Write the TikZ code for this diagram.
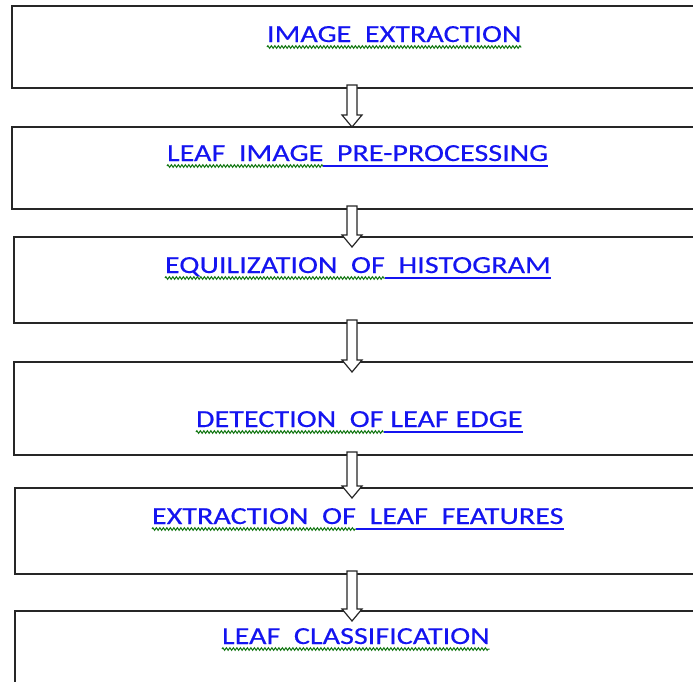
\documentclass[tikz,border=0pt]{standalone}
\usepackage{fontspec}
\newfontfamily\stepfont[FakeStretch=1.23, FakeBold=0.3]{Carlito}
\usetikzlibrary{calc}
\usetikzlibrary{positioning}
\usetikzlibrary{decorations.pathmorphing}

\definecolor{linkblue}{RGB}{20,20,240}
\definecolor{spellgreen}{RGB}{20,120,20}

\tikzset{
    stepbox/.style={draw=black!85, line width=1.6pt, fill=white,
        outer sep=0pt, inner sep=0pt, anchor=north west},
    steplabel/.style={inner sep=0pt, outer sep=0pt, anchor=base west,
        text=linkblue, font=\stepfont\fontsize{24.5}{29}\selectfont},
    linkline/.style={linkblue, line width=1.5pt},
    squiggle/.style={spellgreen, line width=1pt, decorate,
        decoration={zigzag, segment length=3.5pt, amplitude=1.3pt}},
    hollowarrow/.style={draw=black!85, line width=1.2pt, fill=white, line join=miter}
}

% hollow block arrow down the spine, #1 = how far the tip runs into the lower box
\newcommand{\flowarrow}[3][0]{%
    \draw[hollowarrow] let \p1=(#2.south), \p2=(#3.north), \p3=(spine) in
        (\x3-5pt,\y1+3pt) -- (\x3-5pt,\y2+12pt-#1pt) -- (\x3-10pt,\y2+12pt-#1pt)
        -- (\x3,\y2-#1pt) -- (\x3+10pt,\y2+12pt-#1pt) -- (\x3+5pt,\y2+12pt-#1pt)
        -- (\x3+5pt,\y1+3pt) -- cycle;
}

\begin{document}
\begin{tikzpicture}[
    x=1pt, y=-1pt]

    \clip (0,0) rectangle (693,681);
    \fill[white] (0,0) rectangle (693,681);
    \coordinate (spine) at (352,0);

    % boxes
    \node[stepbox, minimum width=698pt, minimum height=82pt] (b1) at (12,6) {};
    \node[stepbox, minimum width=698pt, minimum height=82pt] (b2) at (12,127) {};
    \node[stepbox, minimum width=696pt, minimum height=86pt] (b3) at (14,237) {};
    \node[stepbox, minimum width=696pt, minimum height=93pt] (b4) at (14,362) {};
    \node[stepbox, minimum width=695pt, minimum height=86pt] (b5) at (15,488) {};
    \node[stepbox, minimum width=695pt, minimum height=100pt] (b6) at (15,611) {};

    % arrows
    \flowarrow{b1}{b2}
    \flowarrow[10]{b2}{b3}
    \flowarrow[10]{b3}{b4}
    \flowarrow[10]{b4}{b5}
    \flowarrow[10]{b5}{b6}

    % labels
    \node[steplabel] (l1) at (267,42) {IMAGE~~EXTRACTION};
    \draw[squiggle] ([yshift=-5pt]l1.base west) -- ([yshift=-5pt]l1.base east);

    \node[steplabel] (l2a) at (167,161) {LEAF~~IMAGE};
    \node[steplabel] (l2b) at (l2a.base east) {~~PRE-PROCESSING};
    \draw[squiggle] ([yshift=-5pt]l2a.base west) -- ([yshift=-5pt]l2a.base east);
    \draw[linkline] ([yshift=-5pt]l2b.base west) -- ([yshift=-5pt]l2b.base east);

    \node[steplabel] (l3a) at (165,273) {EQUILIZATION~~OF};
    \node[steplabel] (l3b) at (l3a.base east) {~~HISTOGRAM};
    \draw[squiggle] ([yshift=-5pt]l3a.base west) -- ([yshift=-5pt]l3a.base east);
    \draw[linkline] ([yshift=-5pt]l3b.base west) -- ([yshift=-5pt]l3b.base east);

    \node[steplabel] (l4a) at (196,427) {DETECTION~~OF};
    \node[steplabel] (l4b) at (l4a.base east) {~LEAF~EDGE};
    \draw[squiggle] ([yshift=-5pt]l4a.base west) -- ([yshift=-5pt]l4a.base east);
    \draw[linkline] ([yshift=-5pt]l4b.base west) -- ([yshift=-5pt]l4b.base east);

    \node[steplabel] (l5a) at (152,524) {EXTRACTION~~OF};
    \node[steplabel] (l5b) at (l5a.base east) {~~LEAF~~FEATURES};
    \draw[squiggle] ([yshift=-5pt]l5a.base west) -- ([yshift=-5pt]l5a.base east);
    \draw[linkline] ([yshift=-5pt]l5b.base west) -- ([yshift=-5pt]l5b.base east);

    \node[steplabel] (l6) at (222,644) {LEAF~~CLASSIFICATION};
    \draw[squiggle] ([yshift=-5pt]l6.base west) -- ([yshift=-5pt]l6.base east);

\end{tikzpicture}
\end{document}
